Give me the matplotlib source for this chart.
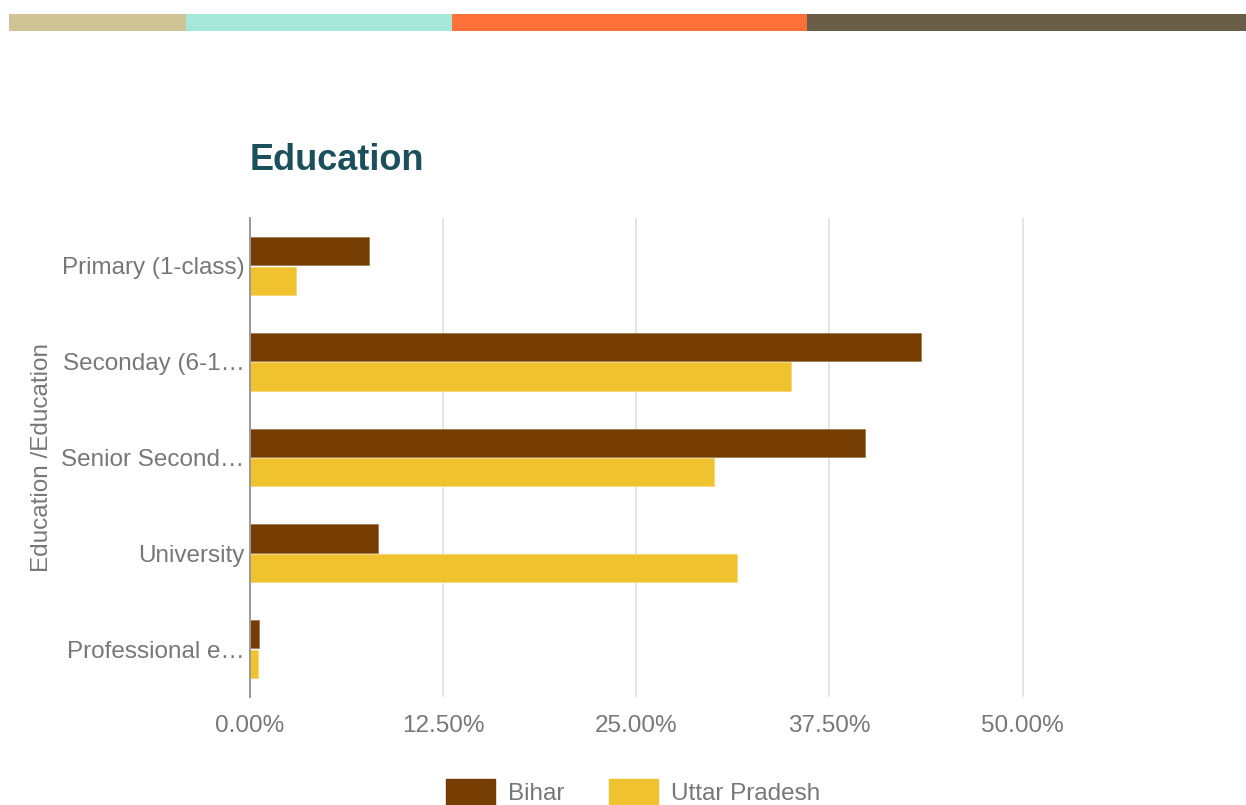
import matplotlib
matplotlib.use('Agg')
import matplotlib.pyplot as plt
import matplotlib.patches as mpatches
import numpy as np

plt.rcParams['font.family'] = ['Liberation Sans', 'DejaVu Sans']

# data
categories = ['Primary (1-class)', 'Seconday (6-1\u2026', 'Senior Second\u2026',
              'University', 'Professional e\u2026']
bihar = [7.7, 43.4, 39.8, 8.3, 0.6]
up = [3.0, 35.0, 30.0, 31.5, 0.5]
series_names = ['Bihar', 'Uttar Pradesh']
series_colors = ['#763D02', '#F0C230']
xticks = [0, 12.5, 25, 37.5, 50]

W, H = 1246, 805
fig = plt.figure(figsize=(W / 100, H / 100), dpi=100)
fig.patch.set_facecolor('white')

# top colour stripe
stripe = [(9, 186, '#D0C396'), (186, 452, '#A5E8DA'),
          (452, 807, '#FF7139'), (807, 1246, '#6B5E48')]
for x0, x1, c in stripe:
    fig.patches.append(mpatches.Rectangle((x0 / W, 1 - 31 / H), (x1 - x0) / W, 17 / H,
                                          transform=fig.transFigure, color=c, lw=0))

ax = fig.add_axes([250 / W, 108 / H, (1208 - 250) / W, (697 - 218) / H])
y = np.arange(len(categories))
bh = 0.295
ax.barh(y - 0.155, bihar, height=bh, color=series_colors[0], edgecolor='#A07A55',
        linewidth=0.6, label=series_names[0], zorder=3)
ax.barh(y + 0.155, up, height=bh, color=series_colors[1], edgecolor='#F5D870',
        linewidth=0.6, label=series_names[1], zorder=3)

ax.set_ylim(4.5, -0.5)
ax.set_xlim(0, 62)
ax.set_xticks(xticks)
ax.set_xticklabels(['%.2f%%' % v for v in xticks])
ax.set_yticks(y)
ax.set_yticklabels(categories)
ax.grid(axis='x', color='#E0E0E0', lw=1.2, zorder=0)
for s in ['top', 'right', 'bottom']:
    ax.spines[s].set_visible(False)
ax.spines['left'].set_color('#999999')
ax.spines['left'].set_linewidth(1.4)
ax.spines['left'].set_zorder(4)
ax.tick_params(axis='both', length=0, labelcolor='#777777', labelsize=17.5)
ax.tick_params(axis='x', pad=13)
ax.tick_params(axis='y', pad=4)
ax.set_ylabel('Education /Education', color='#777777', fontsize=17.5, labelpad=6)

fig.text(250 / W, 1 - 161 / H, 'Education', fontsize=26, fontweight='bold',
         color='#1B4F5C', ha='left', va='center')

fig.legend(handles=[mpatches.Patch(color=series_colors[0], label=series_names[0]),
                    mpatches.Patch(color=series_colors[1], label=series_names[1])],
           loc='upper left', bbox_to_anchor=(446 / W, 1 - 779 / H), ncol=2, frameon=False,
           borderaxespad=0, borderpad=0, handlelength=2.0, handleheight=1.3,
           columnspacing=1.85, handletextpad=0.55, prop={'size': 17.5}, labelcolor='#777777')

plt.savefig('out.png', dpi=100, facecolor='white')
